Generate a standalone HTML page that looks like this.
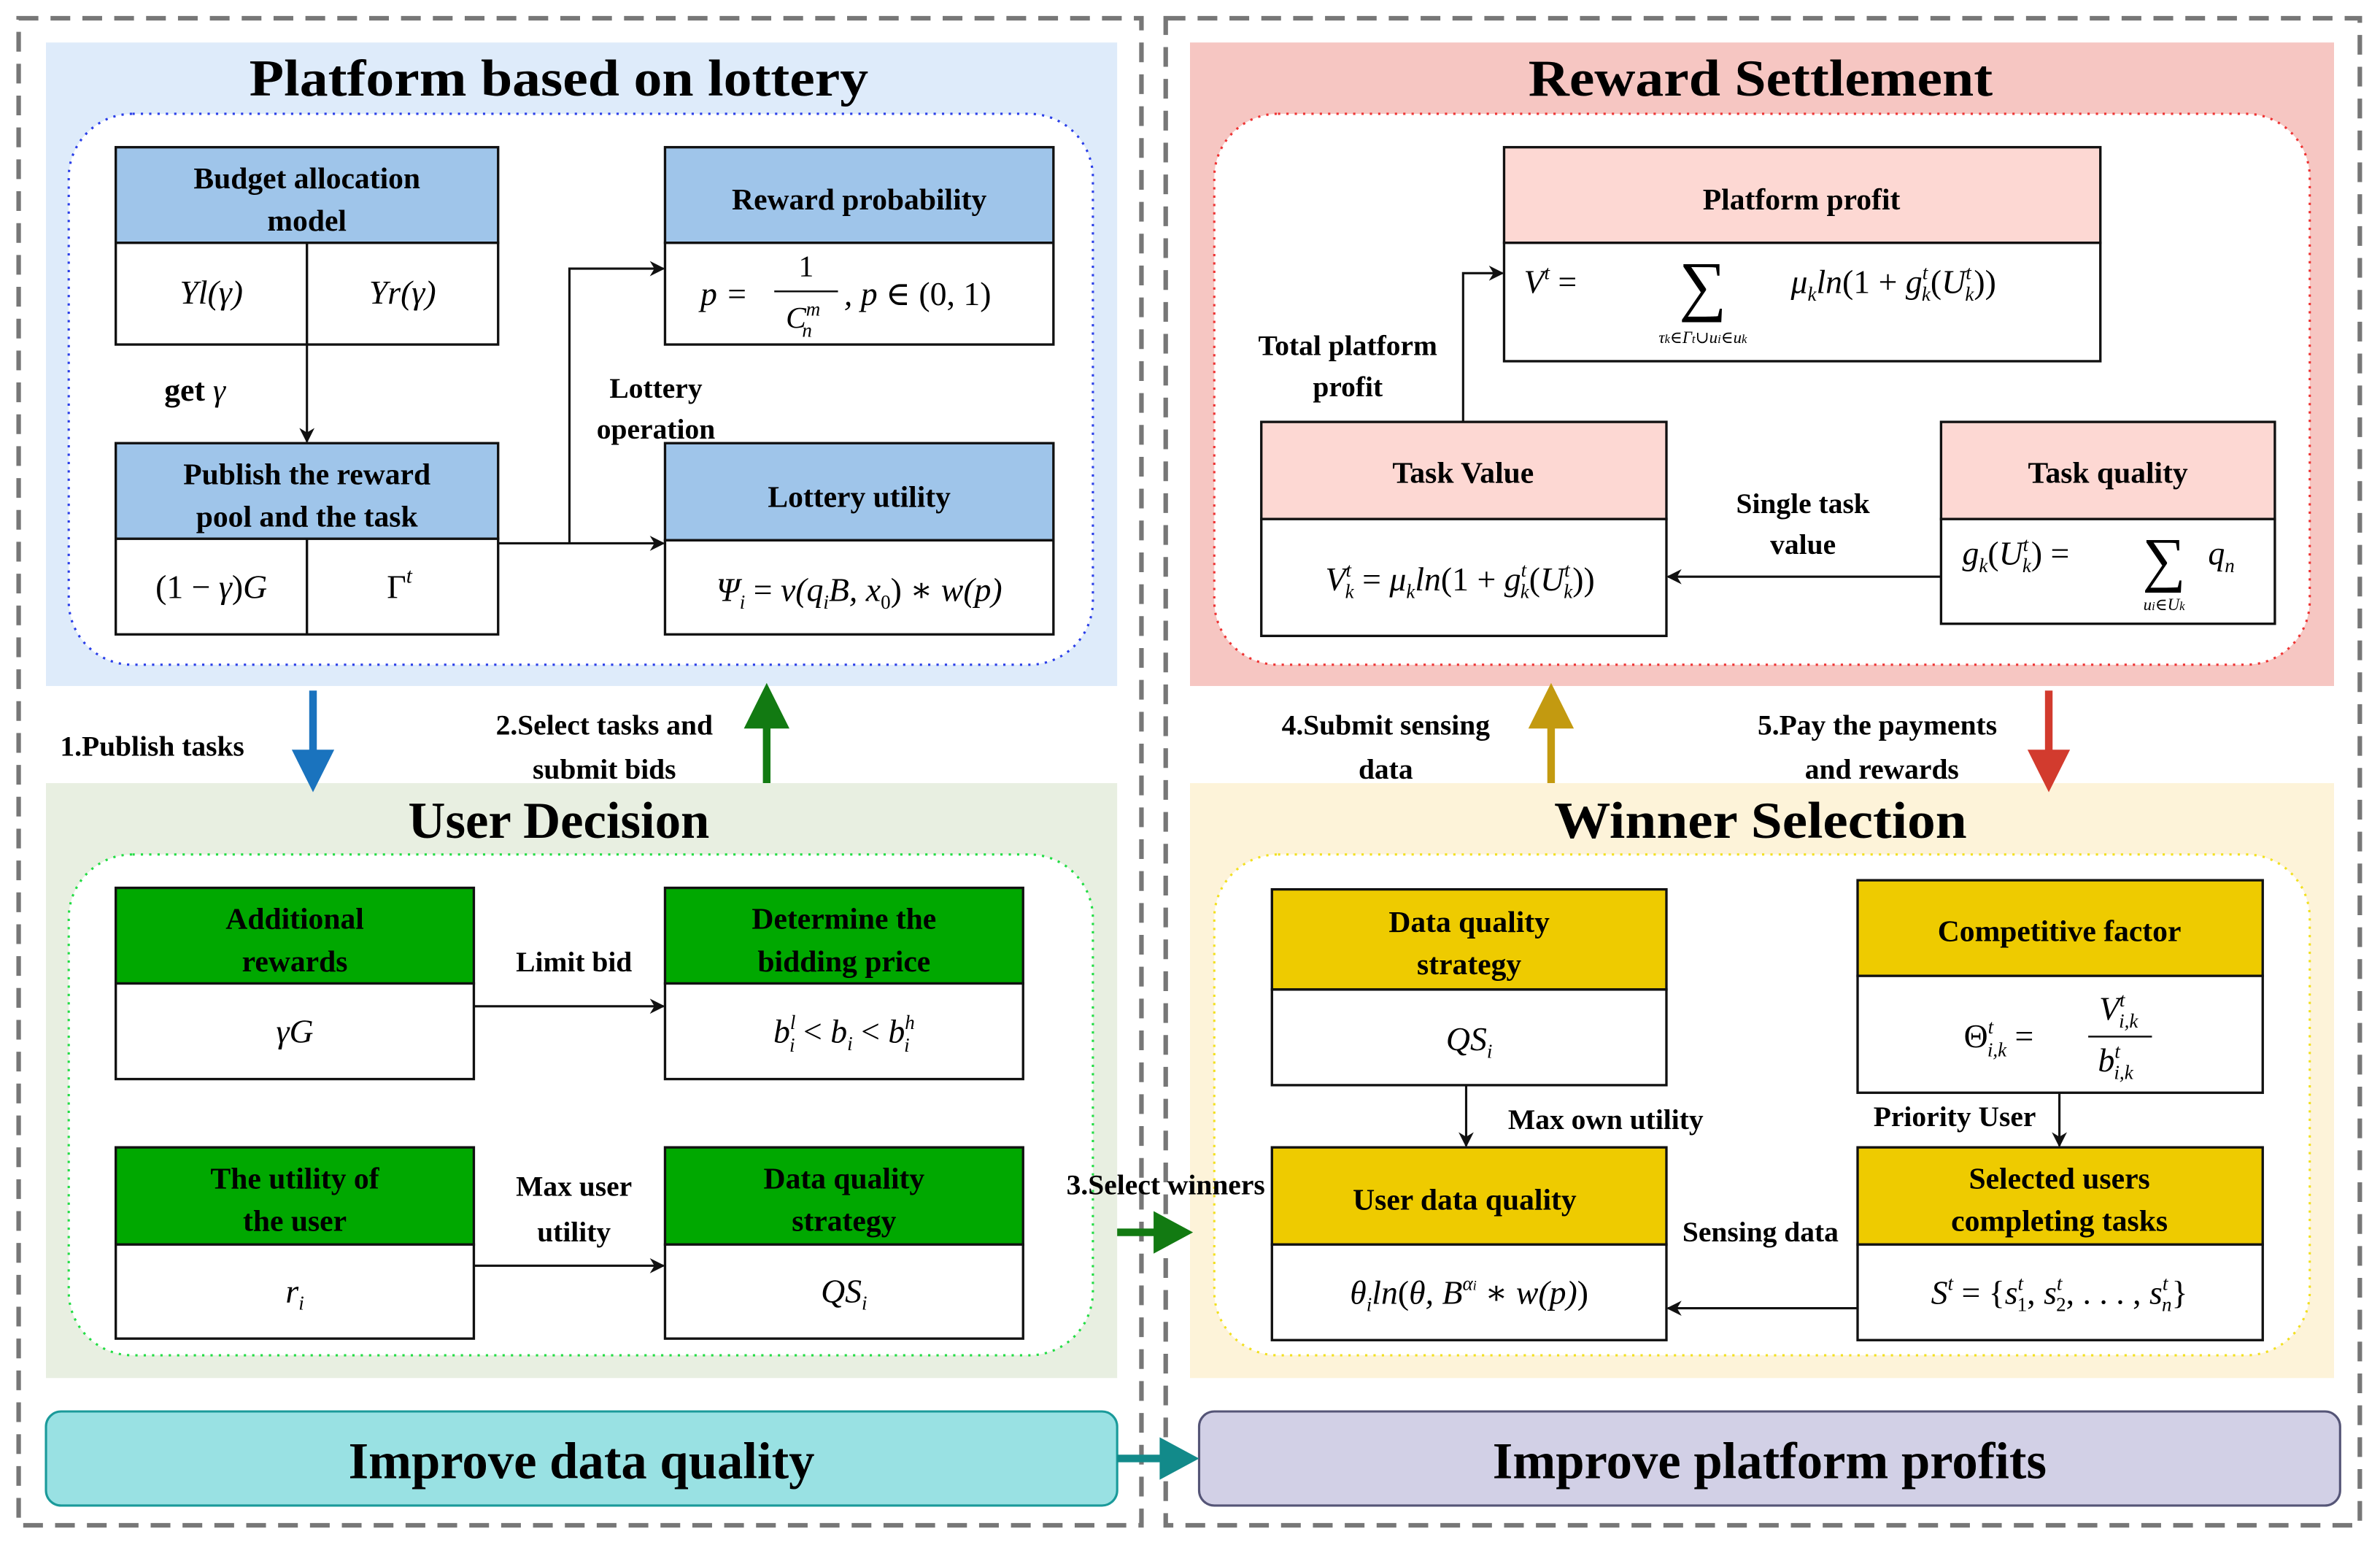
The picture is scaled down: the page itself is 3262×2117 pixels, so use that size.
<!DOCTYPE html>
<html><head><meta charset="utf-8"><style>
html,body{margin:0;padding:0;background:#fff}
svg{display:block}
text{font-family:"Liberation Serif","DejaVu Serif",serif}
.h{font-weight:bold;font-size:20px;text-anchor:middle}
.t{font-weight:bold;font-size:34px;text-anchor:middle}
.m{font-style:italic;font-size:22px;text-anchor:middle}
.s{font-style:italic;font-size:22px;text-anchor:start}
.l{font-weight:bold;font-size:19px;text-anchor:middle}
.bx{stroke:#111;stroke-width:1.6}
</style></head><body>
<svg width="3262" height="2117" viewBox="0 0 1568 1018" xmlns="http://www.w3.org/2000/svg">
<defs>
<marker id="a" markerWidth="10" markerHeight="10" refX="9" refY="5" orient="auto" markerUnits="userSpaceOnUse"><path d="M0,0 L10,5 L0,10 L3,5z" fill="#111"/></marker>
</defs>
<rect width="1568" height="1018" fill="#fff"/>
<rect x="12" y="12" width="740" height="993" fill="none" stroke="#777" stroke-width="3" stroke-dasharray="13 8"/>
<rect x="768" y="12" width="787" height="993" fill="none" stroke="#777" stroke-width="3" stroke-dasharray="13 8"/>

<rect x="30" y="28" width="706" height="424" fill="#deebfa"/>
<rect x="30" y="516" width="706" height="392" fill="#e8efe1"/>
<rect x="784" y="28" width="754" height="424" fill="#f6c6c2"/>
<rect x="784" y="516" width="754" height="392" fill="#fdf3d9"/>
<rect x="45" y="75" width="675" height="363" rx="42" fill="#fff" stroke="#2a3ee8" stroke-width="1.5" stroke-dasharray="1.5 4"/>
<rect x="45" y="563" width="675" height="330" rx="42" fill="#fff" stroke="#22dd44" stroke-width="1.5" stroke-dasharray="1.5 4"/>
<rect x="800" y="75" width="722" height="363" rx="42" fill="#fff" stroke="#ee3333" stroke-width="1.5" stroke-dasharray="1.5 4"/>
<rect x="800" y="563" width="722" height="330" rx="42" fill="#fff" stroke="#f2e020" stroke-width="1.5" stroke-dasharray="1.5 4"/>

<text class="t" x="368" y="63" textLength="408" lengthAdjust="spacingAndGlyphs">Platform based on lottery</text>
<text class="t" x="368" y="552">User Decision</text>
<text class="t" x="1160" y="63" textLength="306" lengthAdjust="spacingAndGlyphs">Reward Settlement</text>
<text class="t" x="1160" y="552" textLength="272" lengthAdjust="spacingAndGlyphs">Winner Selection</text>

<rect class="bx" x="76" y="97" width="252" height="63" fill="#9fc5ea"/>
<rect class="bx" x="76" y="160" width="252" height="67" fill="#fff"/>
<line class="bx" x1="202" y1="160" x2="202" y2="227"/>
<text class="h" x="202" y="124">Budget allocation</text><text class="h" x="202" y="152">model</text>
<text class="m" x="139" y="200">Yl(γ)</text><text class="m" x="265" y="200">Yr(γ)</text>

<rect class="bx" x="76" y="292" width="252" height="63" fill="#9fc5ea"/>
<rect class="bx" x="76" y="355" width="252" height="63" fill="#fff"/>
<line class="bx" x1="202" y1="355" x2="202" y2="418"/>
<text class="h" x="202" y="319">Publish the reward</text><text class="h" x="202" y="347">pool and the task</text>
<text class="m" x="139" y="394" style="font-style:normal">(1 − <tspan font-style="italic">γ</tspan>)<tspan font-style="italic">G</tspan></text>
<text class="m" x="263" y="394" style="font-style:normal">Γ<tspan font-size="14" font-style="italic" dy="-10">t</tspan></text>

<rect class="bx" x="438" y="97" width="256" height="63" fill="#9fc5ea"/>
<rect class="bx" x="438" y="160" width="256" height="67" fill="#fff"/>
<text class="h" x="566" y="138">Reward probability</text>
<text class="m" x="477" y="201">p =</text>
<text x="531" y="182" font-size="20" text-anchor="middle">1</text>
<line x1="510" y1="192" x2="552" y2="192" stroke="#111" stroke-width="1.2"/>
<text x="529" y="216" font-size="20" font-style="italic" text-anchor="middle">C<tspan font-size="13" dy="-8">m</tspan><tspan font-size="13" dx="-12" dy="14">n</tspan></text>
<text x="556" y="201" font-size="22" font-style="italic">, p <tspan font-style="normal">∈ (0, 1)</tspan></text>

<rect class="bx" x="438" y="292" width="256" height="64" fill="#9fc5ea"/>
<rect class="bx" x="438" y="356" width="256" height="62" fill="#fff"/>
<text class="h" x="566" y="334">Lottery utility</text>
<text class="m" x="566" y="396">Ψ<tspan font-size="13" dy="5">i</tspan><tspan dy="-5" font-style="normal"> = </tspan>v(q<tspan font-size="13" dy="5">i</tspan><tspan dy="-5">B, x</tspan><tspan font-size="13" dy="5" font-style="normal">0</tspan><tspan dy="-5" font-style="normal">) ∗ </tspan>w(p)</text>

<line x1="202" y1="227" x2="202" y2="291" stroke="#111" stroke-width="1.5" marker-end="url(#a)"/>
<text x="108" y="264" font-size="21" font-weight="bold">get <tspan font-style="italic" font-weight="normal">γ</tspan></text>
<line x1="328" y1="358" x2="437" y2="358" stroke="#111" stroke-width="1.5" marker-end="url(#a)"/>
<polyline points="375,358 375,177 437,177" fill="none" stroke="#111" stroke-width="1.5" marker-end="url(#a)"/>
<text class="l" x="432" y="262">Lottery</text><text class="l" x="432" y="289">operation</text>

<rect class="bx" x="76" y="585" width="236" height="63" fill="#00a800"/>
<rect class="bx" x="76" y="648" width="236" height="63" fill="#fff"/>
<text class="h" x="194" y="612">Additional</text><text class="h" x="194" y="640">rewards</text>
<text class="m" x="194" y="687">γG</text>
<rect class="bx" x="438" y="585" width="236" height="63" fill="#00a800"/>
<rect class="bx" x="438" y="648" width="236" height="63" fill="#fff"/>
<text class="h" x="556" y="612">Determine the</text><text class="h" x="556" y="640">bidding price</text>
<text class="m" x="556" y="687">b<tspan font-size="13" dy="-9">l</tspan><tspan font-size="13" dx="-4" dy="15">i</tspan><tspan dy="-6" font-style="normal"> &lt; </tspan>b<tspan font-size="13" dy="5">i</tspan><tspan dy="-5" font-style="normal"> &lt; </tspan>b<tspan font-size="13" dy="-9">h</tspan><tspan font-size="13" dx="-7" dy="15">i</tspan></text>
<rect class="bx" x="76" y="756" width="236" height="64" fill="#00a800"/>
<rect class="bx" x="76" y="820" width="236" height="62" fill="#fff"/>
<text class="h" x="194" y="783">The utility of</text><text class="h" x="194" y="811">the user</text>
<text class="m" x="194" y="858">r<tspan font-size="13" dy="5">i</tspan></text>
<rect class="bx" x="438" y="756" width="236" height="64" fill="#00a800"/>
<rect class="bx" x="438" y="820" width="236" height="62" fill="#fff"/>
<text class="h" x="556" y="783">Data quality</text><text class="h" x="556" y="811">strategy</text>
<text class="m" x="556" y="858">QS<tspan font-size="13" dy="5">i</tspan></text>
<line x1="312" y1="663" x2="437" y2="663" stroke="#111" stroke-width="1.5" marker-end="url(#a)"/>
<line x1="312" y1="834" x2="437" y2="834" stroke="#111" stroke-width="1.5" marker-end="url(#a)"/>
<text class="l" x="378" y="640">Limit bid</text>
<text class="l" x="378" y="788">Max user</text><text class="l" x="378" y="818" font-size="21">utility</text>

<rect class="bx" x="991" y="97" width="393" height="63" fill="#fdd8d3"/>
<rect class="bx" x="991" y="160" width="393" height="78" fill="#fff"/>
<text class="h" x="1187" y="138">Platform profit</text>
<text class="s" x="1004" y="193">V<tspan font-size="13" dy="-9">t</tspan><tspan dy="9" font-style="normal"> = </tspan></text>
<text x="1122" y="203" font-size="44" text-anchor="middle">∑</text>
<text x="1122" y="226" font-size="11" font-style="italic" text-anchor="middle">τ<tspan font-size="8">k</tspan>∈Γ<tspan font-size="8">t</tspan>∪u<tspan font-size="8">i</tspan>∈u<tspan font-size="8">k</tspan></text>
<text class="s" x="1180" y="193">μ<tspan font-size="13" dy="5">k</tspan><tspan dy="-5">ln</tspan><tspan font-style="normal">(1 + </tspan>g<tspan font-size="13" dy="-9">t</tspan><tspan font-size="13" dx="-4" dy="14">k</tspan><tspan dy="-5" font-style="normal">(</tspan>U<tspan font-size="13" dy="-9">t</tspan><tspan font-size="13" dx="-4" dy="14">k</tspan><tspan dy="-5" font-style="normal">))</tspan></text>

<rect class="bx" x="831" y="278" width="267" height="64" fill="#fdd8d3"/>
<rect class="bx" x="831" y="342" width="267" height="77" fill="#fff"/>
<text class="h" x="964" y="318">Task Value</text>
<text class="m" x="962" y="389">V<tspan font-size="13" dy="-9">t</tspan><tspan font-size="13" dx="-4" dy="14">k</tspan><tspan dy="-5" font-style="normal"> = </tspan>μ<tspan font-size="13" dy="5">k</tspan><tspan dy="-5">ln</tspan><tspan font-style="normal">(1 + </tspan>g<tspan font-size="13" dy="-9">t</tspan><tspan font-size="13" dx="-4" dy="14">k</tspan><tspan dy="-5" font-style="normal">(</tspan>U<tspan font-size="13" dy="-9">t</tspan><tspan font-size="13" dx="-4" dy="14">k</tspan><tspan dy="-5" font-style="normal">))</tspan></text>

<rect class="bx" x="1279" y="278" width="220" height="64" fill="#fdd8d3"/>
<rect class="bx" x="1279" y="342" width="220" height="69" fill="#fff"/>
<text class="h" x="1389" y="318">Task quality</text>
<text class="s" x="1293" y="372">g<tspan font-size="13" dy="5">k</tspan><tspan dy="-5" font-style="normal">(</tspan>U<tspan font-size="13" dy="-9">t</tspan><tspan font-size="13" dx="-4" dy="14">k</tspan><tspan dy="-5" font-style="normal">) = </tspan></text>
<text x="1426" y="382" font-size="40" text-anchor="middle">∑</text>
<text x="1426" y="402" font-size="11" font-style="italic" text-anchor="middle">u<tspan font-size="8">i</tspan>∈U<tspan font-size="8">k</tspan></text>
<text class="s" x="1455" y="372">q<tspan font-size="13" dy="5">n</tspan></text>

<polyline points="964,278 964,180 990,180" fill="none" stroke="#111" stroke-width="1.5" marker-end="url(#a)"/>
<text class="l" x="888" y="234">Total platform</text><text class="l" x="888" y="261">profit</text>
<line x1="1279" y1="380" x2="1099" y2="380" stroke="#111" stroke-width="1.5" marker-end="url(#a)"/>
<text class="l" x="1188" y="338">Single task</text><text class="l" x="1188" y="365">value</text>

<rect class="bx" x="838" y="586" width="260" height="66" fill="#eecb00"/>
<rect class="bx" x="838" y="652" width="260" height="63" fill="#fff"/>
<text class="h" x="968" y="614">Data quality</text><text class="h" x="968" y="642">strategy</text>
<text class="m" x="968" y="692">QS<tspan font-size="13" dy="5">i</tspan></text>

<rect class="bx" x="1224" y="580" width="267" height="63" fill="#eecb00"/>
<rect class="bx" x="1224" y="643" width="267" height="77" fill="#fff"/>
<text class="h" x="1357" y="620">Competitive factor</text>
<text class="s" x="1294" y="690" style="font-style:normal">Θ<tspan font-size="13" font-style="italic" dy="-9">t</tspan><tspan font-size="13" font-style="italic" dx="-4" dy="15">i,k</tspan><tspan dy="-6"> = </tspan></text>
<line x1="1376" y1="683" x2="1418" y2="683" stroke="#111" stroke-width="1.2"/>
<text class="m" x="1396" y="672">V<tspan font-size="13" dy="-9">t</tspan><tspan font-size="13" dx="-4" dy="14">i,k</tspan></text>
<text class="m" x="1394" y="706">b<tspan font-size="13" dy="-9">t</tspan><tspan font-size="13" dx="-4" dy="14">i,k</tspan></text>

<rect class="bx" x="838" y="756" width="260" height="64" fill="#eecb00"/>
<rect class="bx" x="838" y="820" width="260" height="63" fill="#fff"/>
<text class="h" x="965" y="797">User data quality</text>
<text class="m" x="968" y="859">θ<tspan font-size="13" dy="5">i</tspan><tspan dy="-5">ln</tspan><tspan font-style="normal">(</tspan>θ, B<tspan font-size="13" dy="-9">α<tspan font-size="9">i</tspan></tspan><tspan dy="9" font-style="normal"> ∗ </tspan>w(p)<tspan font-style="normal">)</tspan></text>

<rect class="bx" x="1224" y="756" width="267" height="64" fill="#eecb00"/>
<rect class="bx" x="1224" y="820" width="267" height="63" fill="#fff"/>
<text class="h" x="1357" y="783">Selected users</text><text class="h" x="1357" y="811">completing tasks</text>
<text class="m" x="1357" y="859">S<tspan font-size="13" dy="-9">t</tspan><tspan dy="9" font-style="normal"> = {</tspan>s<tspan font-size="13" dy="-9">t</tspan><tspan font-size="13" dx="-4" dy="14" font-style="normal">1</tspan><tspan dy="-5" font-style="normal">, </tspan>s<tspan font-size="13" dy="-9">t</tspan><tspan font-size="13" dx="-4" dy="14" font-style="normal">2</tspan><tspan dy="-5" font-style="normal">, . . . , </tspan>s<tspan font-size="13" dy="-9">t</tspan><tspan font-size="13" dx="-4" dy="14">n</tspan><tspan dy="-5" font-style="normal">}</tspan></text>

<line x1="966" y1="715" x2="966" y2="755" stroke="#111" stroke-width="1.5" marker-end="url(#a)"/>
<text class="l" x="1058" y="744">Max own utility</text>
<line x1="1357" y1="720" x2="1357" y2="755" stroke="#111" stroke-width="1.5" marker-end="url(#a)"/>
<text class="l" x="1288" y="742">Priority User</text>
<line x1="1224" y1="862" x2="1099" y2="862" stroke="#111" stroke-width="1.5" marker-end="url(#a)"/>
<text class="l" x="1160" y="818">Sensing data</text>
<text class="l" x="768" y="787">3.Select winners</text>

<line x1="206" y1="455" x2="206" y2="500" stroke="#1a73be" stroke-width="5"/>
<polygon points="192,494 220,494 206,522" fill="#1a73be"/>
<text class="l" x="100" y="498">1.Publish tasks</text>
<line x1="505" y1="516" x2="505" y2="472" stroke="#127a12" stroke-width="5"/>
<polygon points="490,480 520,480 505,450" fill="#127a12"/>
<text class="l" x="398" y="484">2.Select tasks and</text><text class="l" x="398" y="513">submit bids</text>
<line x1="1022" y1="516" x2="1022" y2="472" stroke="#c39a10" stroke-width="5"/>
<polygon points="1007,480 1037,480 1022,450" fill="#c39a10"/>
<text class="l" x="913" y="484">4.Submit sensing</text><text class="l" x="913" y="513">data</text>
<line x1="1350" y1="455" x2="1350" y2="500" stroke="#d23b2e" stroke-width="5"/>
<polygon points="1336,494 1364,494 1350,522" fill="#d23b2e"/>
<text class="l" x="1237" y="484">5.Pay the payments</text><text class="l" x="1240" y="513">and rewards</text>
<line x1="736" y1="812" x2="766" y2="812" stroke="#127a12" stroke-width="5"/>
<polygon points="760,798 760,826 786,812" fill="#127a12"/>

<rect x="30" y="930" width="706" height="62" rx="10" fill="#99e1e3" stroke="#1a9a9a" stroke-width="1.5"/>
<text class="t" x="383" y="974">Improve data quality</text>
<rect x="790" y="930" width="752" height="62" rx="10" fill="#d2d0e6" stroke="#555577" stroke-width="1.5"/>
<text class="t" x="1166" y="974">Improve platform profits</text>
<line x1="736" y1="961" x2="770" y2="961" stroke="#128a8a" stroke-width="5"/>
<polygon points="764,947 764,975 790,961" fill="#128a8a"/>
</svg>
</body></html>
